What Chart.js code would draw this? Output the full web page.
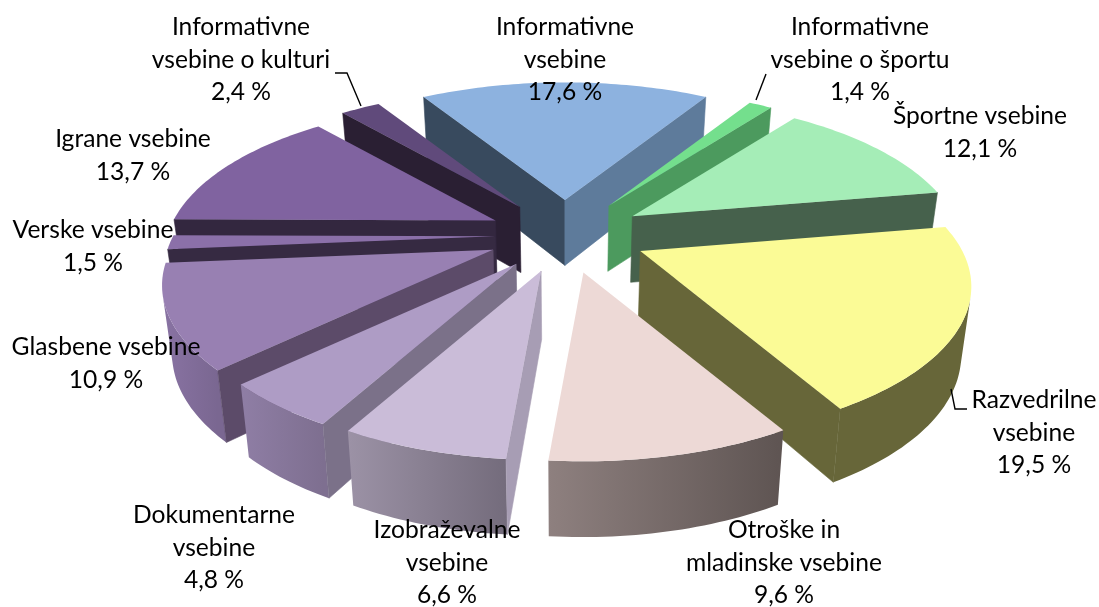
<!DOCTYPE html>
<html><head><meta charset="utf-8">
<script src="https://cdn.jsdelivr.net/npm/chart.js@4"></script>
<style>html,body{margin:0;padding:0;background:#fff}canvas{display:block}</style>
</head><body><canvas id="c" width="1099" height="607"></canvas>
<script>
const categories = ["Informativne vsebine","Informativne vsebine o športu","Športne vsebine","Razvedrilne vsebine","Otroške in mladinske vsebine","Izobraževalne vsebine","Dokumentarne vsebine","Glasbene vsebine","Verske vsebine","Igrane vsebine","Informativne vsebine o kulturi"];
const values = [17.6,1.4,12.1,19.5,9.6,6.6,4.8,10.9,1.5,13.7,2.4];
const explode = [25.5,25.5,25.3,25.2,25,24.5,24,24,21.7,24.4,25];
const topColors = ["#8DB2DF","#74DF8D","#A5EDB7","#FBFB96","#EDD9D6","#CABCD8","#AE9CC5","#9880B2","#8B70A9","#8063A0","#604A7B"];
const wallStart = ["#384A5E","#4C9A5E","#46614C","#676639","#8A7C7A","#A79DB4","#7B7189","#5C4B69","#362A42","#33273F","#2A1F33"];
const wallEnd   = ["#5E7B9B","#4C9A5E","#46614C","#676639","#8A7C7A","#A79DB4","#7B7189","#5C4B69","#362A42","#33273F","#2A1F33"];
const rimLeft   = ["#5E7B9B","#4C9A5E","#46614C","#676639","#8E807F","#9C92A6","#8F7EA5","#8973A3","#362A42","#33273F","#2A1F33"];
const rimRight  = ["#5E7B9B","#4C9A5E","#46614C","#676639","#5E5452","#746C7C","#7E6F90","#7A6791","#362A42","#33273F","#2A1F33"];
const labelLines = [["Informativne","vsebine"],["Informativne","vsebine o športu"],["Športne vsebine"],["Razvedrilne","vsebine"],["Otroške in","mladinske vsebine"],["Izobraževalne","vsebine"],["Dokumentarne","vsebine"],["Glasbene vsebine"],["Verske vsebine"],["Igrane vsebine"],["Informativne","vsebine o kulturi"]];
const labelX = [565,860,980,1034,784,447,214,106,93,133,241];
const labelTop = [27,27,116,400,530,530,515,347,230,139,27];
const leaders = [[[335,73],[347,73],[361,106]],[[766,74],[756,100]],[[951,389],[955,409],[967,409]]];

const view = {cx:565, cy:235, A:322, B:145, p:0.232, depth:66.7, kx:0.975, ky:1.04};
const proj = (u,v)=>{const w=1+view.p*v;return {x:view.cx+view.A*u/w,y:view.cy-view.B*v/w};};
const drop = q=>({x:view.cx+(q.x-view.cx)*view.kx,y:view.cy+(q.y-view.cy)*view.ky+view.depth});
const poly=(ctx,pts)=>{ctx.beginPath();pts.forEach((q,i)=>i?ctx.lineTo(q.x,q.y):ctx.moveTo(q.x,q.y));ctx.closePath();};
const area=pts=>pts.reduce((s,q,i)=>{const n=pts[(i+1)%pts.length];return s+q.x*n.y-n.x*q.y;},0);

function outline(arc){
  const a0=arc.startAngle+Math.PI/2,a1=arc.endAngle+Math.PI/2,mid=(a0+a1)/2,e=arc.options.offset/100;
  const apex=proj(e*Math.sin(mid),e*Math.cos(mid)),rim=[],n=Math.max(4,Math.ceil((a1-a0)/0.02));
  for(let i=0;i<=n;i++){const t=a0+(a1-a0)*i/n,q=proj(Math.sin(t),Math.cos(t));
    rim.push({x:apex.x+q.x-view.cx,y:apex.y+q.y-view.cy});}
  return {apex,rim,key:apex.y+0.5*view.B*-Math.cos(mid)};
}
function wall(ctx,a,b,fill){
  const q=[a,b,drop(b),drop(a)];
  if(area(q)>=0)return;
  ctx.fillStyle=fill;ctx.strokeStyle=fill;ctx.lineWidth=0.6;
  poly(ctx,q);ctx.fill();ctx.stroke();
}
function rimWall(ctx,rim,fill){
  let run=[];
  const flush=()=>{ if(run.length>1){poly(ctx,[...run,...run.map(drop).reverse()]);ctx.fillStyle=fill;ctx.fill();} run=[]; };
  for(let k=0;k<rim.length-1;k++){
    const a=rim[k],b=rim[k+1];
    if(area([a,b,drop(b),drop(a)])<0){ if(!run.length)run.push(a); run.push(b); }
    else flush();
  }
  flush();
}
const pie3d={id:'pie3d',
  beforeDatasetDraw(chart){
    const ctx=chart.ctx,arcs=chart.getDatasetMeta(0).data;
    const items=arcs.map((arc,i)=>({i,...outline(arc)})).sort((a,b)=>a.key-b.key);
    ctx.save();
    ctx.lineJoin='round';
    items.forEach(s=>{
      const xs=s.rim.map(q=>q.x),g=ctx.createLinearGradient(Math.min(...xs),0,Math.max(...xs),0);
      g.addColorStop(0,rimLeft[s.i]);g.addColorStop(1,rimRight[s.i]);
      rimWall(ctx,s.rim,g);
      wall(ctx,s.apex,s.rim[0],wallStart[s.i]);
      wall(ctx,s.rim[s.rim.length-1],s.apex,wallEnd[s.i]);
    });
    items.forEach(s=>{
      ctx.fillStyle=topColors[s.i];
      poly(ctx,[s.apex,...s.rim]);ctx.fill();
    });
    ctx.restore();
    return false;
  },
  afterDatasetsDraw(chart){
    const ctx=chart.ctx;
    ctx.save();
    ctx.strokeStyle='#000';ctx.lineWidth=1.4;
    leaders.forEach(l=>{ctx.beginPath();l.forEach((q,i)=>i?ctx.lineTo(q[0],q[1]):ctx.moveTo(q[0],q[1]));ctx.stroke();});
    ctx.fillStyle='#000';ctx.font='24.6px Lato';ctx.textAlign='center';ctx.textBaseline='middle';
    values.forEach((v,i)=>{
      const lines=[...labelLines[i],String(v).replace('.',',')+' %'];
      lines.forEach((t,k)=>ctx.fillText(t,labelX[i],labelTop[i]+k*32.6));
    });
    ctx.restore();
  }
};
new Chart(document.getElementById('c'),{
  type:'pie',
  data:{labels:categories,datasets:[{data:values,backgroundColor:topColors,borderWidth:0,offset:ctx=>explode[ctx.dataIndex]}]},
  options:{responsive:false,animation:false,rotation:-31.7,
    plugins:{legend:{display:false},tooltip:{enabled:false}}},
  plugins:[pie3d]
});
</script></body></html>
